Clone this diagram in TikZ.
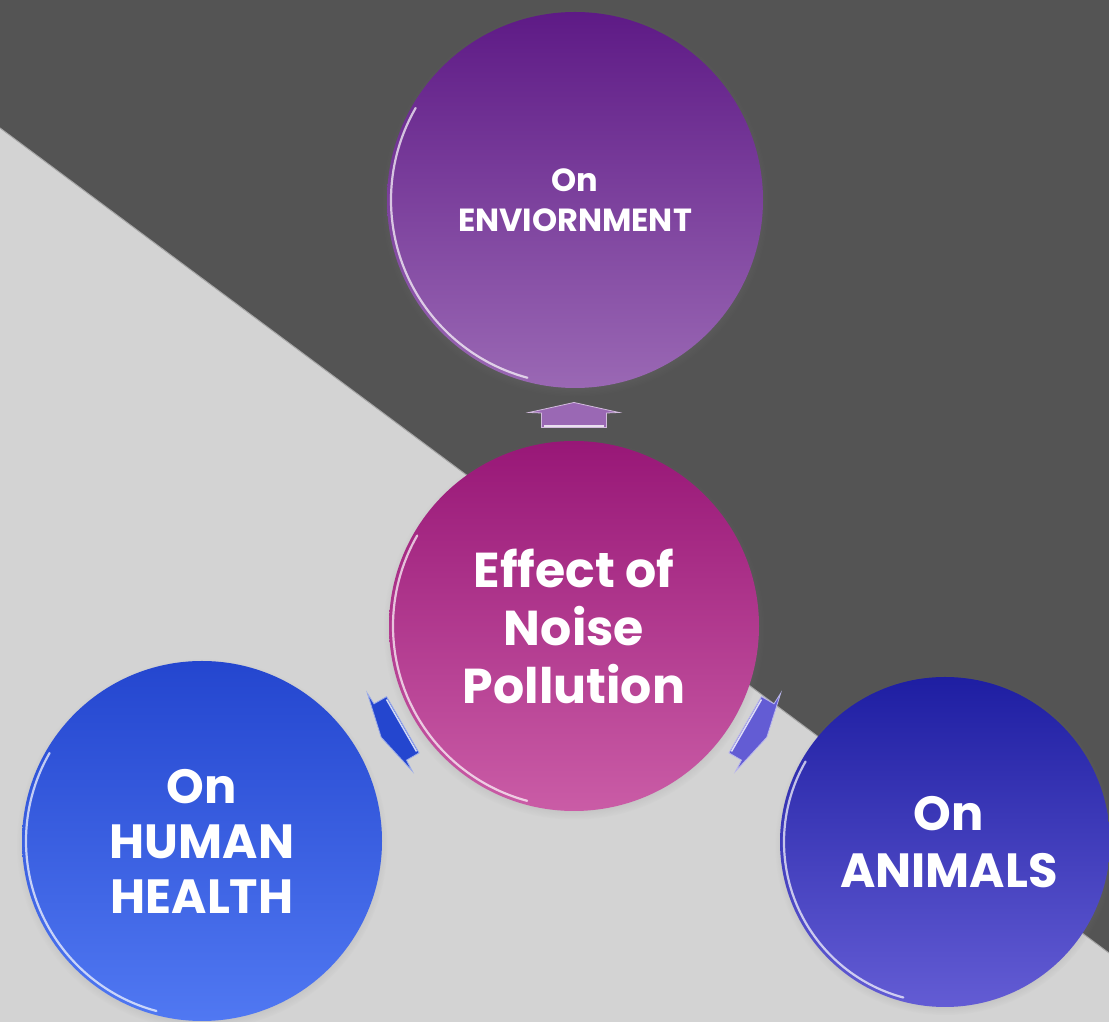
\documentclass[tikz,border=0pt]{standalone}
\usepackage{fontspec}
\setmainfont{Poppins}
\usetikzlibrary{shadows}

\definecolor{darkbg}{HTML}{545454}
\definecolor{lightbg}{HTML}{D3D3D3}
\definecolor{envtop}{HTML}{5E1A86}
\definecolor{envbot}{HTML}{9A68B4}
\definecolor{noisetop}{HTML}{981777}
\definecolor{noisebot}{HTML}{CA5CA6}
\definecolor{humantop}{HTML}{2446CF}
\definecolor{humanbot}{HTML}{5078F2}
\definecolor{animaltop}{HTML}{1E1EA2}
\definecolor{animalbot}{HTML}{635CD4}

\begin{document}
\begin{tikzpicture}[x=1pt, y=1pt,
  bubble/.style={circle, inner sep=0pt, text=white, align=center,
    circular drop shadow={shadow xshift=0pt, shadow yshift=-3pt, shadow scale=1.03, opacity=0.45}},
  pointer/.pic={
    \filldraw[fill=#1, draw=#1!45!white, line width=0.8pt]
      (-32.5,-12.5) -- (32.5,-12.5) -- (32.5,2) -- (45,2.5) -- (0,12.5)
      -- (-45,2.5) -- (-32.5,2) -- cycle;
    \draw[white, opacity=0.8, line width=1.5pt] (-30,-11) -- (30,-11);
  },
  rim/.style={white, opacity=0.7, line width=2.2pt, line cap=round}]

\useasboundingbox (0,0) rectangle (1109,1022);
\fill[lightbg] (0,0) rectangle (1109,1022);
\fill[darkbg] (0,1022) -- (1109,1022) -- (1109,69) -- (0,894) -- cycle;
\draw[gray!70, line width=1pt] (0,894) -- (1109,69);

\node[bubble, minimum size=376pt, top color=envtop, bottom color=envbot,
  font=\fontsize{32}{40}\selectfont\bfseries] (env) at (575,822) {On\\ENVIORNMENT};
\node[bubble, minimum size=370pt, top color=noisetop, bottom color=noisebot,
  font=\fontsize{49}{58}\selectfont\bfseries] (noise) at (574,396) {Effect of\\Noise\\Pollution};
\node[bubble, minimum size=360pt, top color=humantop, bottom color=humanbot,
  font=\fontsize{48}{55}\selectfont\bfseries] (human) at (202,181) {On\\HUMAN\\HEALTH};
\node[bubble, minimum size=330pt, top color=animaltop, bottom color=animalbot,
  font=\fontsize{48}{57}\selectfont\bfseries] (animals) at (945,180) {\hspace*{8pt}On\\\hspace*{8pt}ANIMALS};

\draw[rim] (env.center) ++(150:184) arc (150:255:184);
\draw[rim] (noise.center) ++(150:181) arc (150:255:181);
\draw[rim] (human.center) ++(150:176) arc (150:255:176);
\draw[rim] (animals.center) ++(150:161) arc (150:255:161);

\pic (toenv) at (574,607) {pointer=envbot};
\pic[rotate=120] (tohuman) at (392,291) {pointer=humantop};
\pic[rotate=-120] (toanimals) at (756,291) {pointer=animalbot};
\end{tikzpicture}
\end{document}
